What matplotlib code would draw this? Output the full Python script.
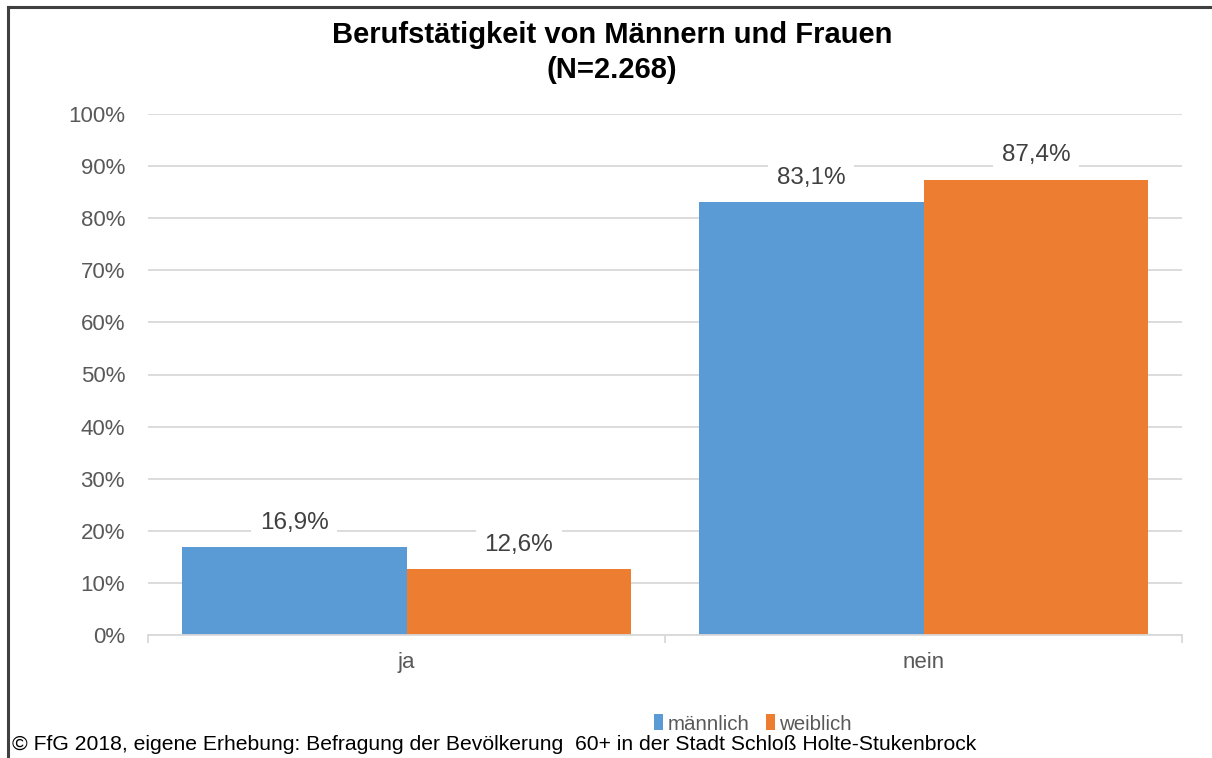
import matplotlib
matplotlib.use("Agg")
import matplotlib.pyplot as plt
from matplotlib.lines import Line2D
from matplotlib.patches import Patch
import numpy as np

plt.rcParams['font.family'] = ['Liberation Sans', 'DejaVu Sans']

categories = ["ja", "nein"]
series_names = ["männlich", "weiblich"]
maennlich = [16.9, 83.1]
weiblich = [12.6, 87.4]
colors = ["#5B9BD5", "#ED7D31"]
title_lines = ["Berufstätigkeit von Männern und Frauen", "(N=2.268)"]
footer = "© FfG 2018, eigene Erhebung: Befragung der Bevölkerung  60+ in der Stadt Schloß Holte-Stukenbrock"

W, H = 1212, 758
fig = plt.figure(figsize=(W / 100, H / 100), dpi=100)
ax = fig.add_axes([148 / W, 1 - 635 / H, (1182 - 148) / W, (635 - 114) / H])

x = np.arange(len(categories))
bw = 0.435
grid_c = "#D9D9D9"
text_c = "#595959"

for i, (vals, name, col) in enumerate(zip([maennlich, weiblich], series_names, colors)):
    pos = x + (i - 0.5) * bw
    ax.bar(pos, vals, width=bw, color=col, zorder=3, label=name)
    for p, v in zip(pos, vals):
        ax.annotate(f"{v:.1f}%".replace(".", ","), (p, v), xytext=(0, 17.5),
                    textcoords="offset points", ha="center", va="center",
                    fontsize=17.5, color="#404040", zorder=5,
                    bbox=dict(boxstyle="square,pad=0.35", fc="white", ec="none"))

ax.set_xlim(-0.5, 1.5)
ax.set_ylim(0, 100)
yt = np.arange(0, 101, 10)
ax.set_yticks(yt)
ax.set_yticklabels([f"{v}%" for v in yt], fontsize=16, color=text_c)
ax.yaxis.grid(True, color=grid_c, lw=1.3, zorder=0)
ax.tick_params(axis="y", length=0, pad=16.5)

ax.set_xticks(x)
ax.set_xticklabels(categories, fontsize=16, color=text_c)
ax.tick_params(axis="x", length=0, pad=12)
ax.set_xticks([-0.5, 0.5, 1.5], minor=True)
ax.tick_params(axis="x", which="minor", length=6, color=grid_c, width=1.3, direction="out")

for s in ["top", "right", "left"]:
    ax.spines[s].set_visible(False)
ax.spines["bottom"].set_color(grid_c)
ax.spines["bottom"].set_linewidth(1.3)
ax.spines["bottom"].set_zorder(4)

for yy, line in zip([35, 70], title_lines):
    fig.text(612 / W, 1 - yy / H, line, ha="center", va="center", fontsize=21,
             fontweight="bold", color="black")

handles = [Patch(facecolor=c, edgecolor="none") for c in colors]
fig.legend(handles, series_names, loc="center", bbox_to_anchor=(753 / W, 1 - 724 / H),
           ncol=2, frameon=False, fontsize=14.8, handlelength=0.45, handleheight=0.8,
           handletextpad=0.2, columnspacing=0.8, labelcolor=text_c)

fig.text(12 / W, 1 - 745 / H, footer, ha="left", va="center", fontsize=15.2, color="black")

# frame lines along the top and left edges
fig.add_artist(Line2D([8 / W, 1], [1 - 7 / H, 1 - 7 / H], color="#404040", lw=2.2))
fig.add_artist(Line2D([8 / W, 8 / W], [0, 1 - 7 / H], color="#404040", lw=2.2))

fig.savefig("out.png", dpi=100)
